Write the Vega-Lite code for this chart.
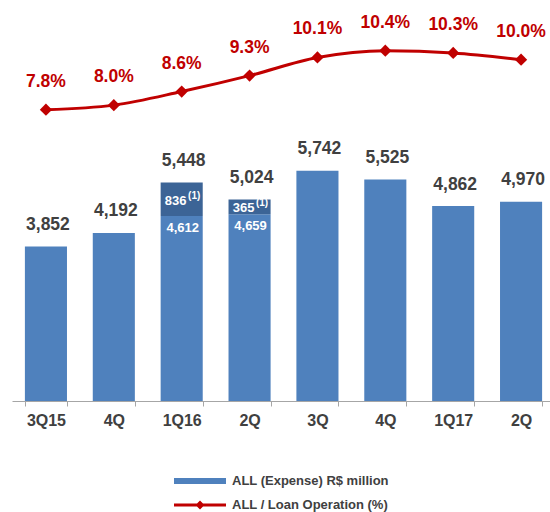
{
  "$schema": "https://vega.github.io/schema/vega-lite/v6.json",
  "autosize": "none",
  "width": 538,
  "height": 401,
  "padding": {"left": 12, "top": 0, "right": 0, "bottom": 111},
  "background": "white",
  "config": {"view": {"stroke": null}, "font": "Liberation Sans"},
  "datasets": {
    "bars": [
      {"q": "3Q15", "part": "base", "value": 3852, "series": "ALL (Expense) R$ million", "note": ""},
      {"q": "4Q15", "part": "base", "value": 4192, "series": "ALL (Expense) R$ million", "note": ""},
      {"q": "1Q16", "part": "base", "value": 4612, "series": "ALL (Expense) R$ million", "note": ""},
      {"q": "1Q16", "part": "extra", "value": 836, "series": "ALL (Expense) R$ million", "note": "(1)"},
      {"q": "2Q16", "part": "base", "value": 4659, "series": "ALL (Expense) R$ million", "note": ""},
      {"q": "2Q16", "part": "extra", "value": 365, "series": "ALL (Expense) R$ million", "note": "(1)"},
      {"q": "3Q16", "part": "base", "value": 5742, "series": "ALL (Expense) R$ million", "note": ""},
      {"q": "4Q16", "part": "base", "value": 5525, "series": "ALL (Expense) R$ million", "note": ""},
      {"q": "1Q17", "part": "base", "value": 4862, "series": "ALL (Expense) R$ million", "note": ""},
      {"q": "2Q17", "part": "base", "value": 4970, "series": "ALL (Expense) R$ million", "note": ""}
    ],
    "line": [
      {"q": "3Q15", "pct": 0.078, "series": "ALL / Loan Operation (%)"},
      {"q": "4Q15", "pct": 0.080, "series": "ALL / Loan Operation (%)"},
      {"q": "1Q16", "pct": 0.086, "series": "ALL / Loan Operation (%)"},
      {"q": "2Q16", "pct": 0.093, "series": "ALL / Loan Operation (%)"},
      {"q": "3Q16", "pct": 0.101, "series": "ALL / Loan Operation (%)"},
      {"q": "4Q16", "pct": 0.104, "series": "ALL / Loan Operation (%)"},
      {"q": "1Q17", "pct": 0.103, "series": "ALL / Loan Operation (%)"},
      {"q": "2Q17", "pct": 0.100, "series": "ALL / Loan Operation (%)"}
    ]
  },
  "resolve": {"scale": {"y": "independent"}},
  "layer": [
    {
      "data": {"name": "bars"},
      "encoding": {
        "x": {
          "field": "q", "type": "nominal",
          "sort": ["3Q15", "4Q15", "1Q16", "2Q16", "3Q16", "4Q16", "1Q17", "2Q17"],
          "scale": {"range": [0, 543], "paddingInner": 0.38, "paddingOuter": 0.19},
          "axis": {
            "title": null, "labelAngle": 0,
            "labelExpr": "(datum.label === '3Q15' || datum.label === '1Q16' || datum.label === '1Q17' || !datum.label) ? datum.label : substring(datum.label, 0, 2)",
            "labelFont": "Liberation Sans", "labelFontWeight": "bold", "labelFontSize": 16, "labelColor": "#404040",
            "labelPadding": 6, "domainColor": "#A6A6A6", "tickColor": "#A6A6A6", "tickSize": 5, "tickBand": "extent", "grid": false
          }
        }
      },
      "layer": [
        {
          "mark": {"type": "bar"},
          "encoding": {
            "y": {"field": "value", "type": "quantitative", "stack": "zero", "scale": {"domain": [0, 9950]}, "axis": null},
            "order": {"field": "part", "type": "ordinal"},
            "detail": {"field": "part"},
            "color": {
              "condition": {"test": "datum.part === 'extra'", "value": "#3C6496"},
              "field": "series", "type": "nominal",
              "scale": {"domain": ["ALL (Expense) R$ million", "ALL / Loan Operation (%)"], "range": ["#4F81BD", "#C00000"]},
              "legend": {
                "orient": "none", "legendX": 178, "legendY": 471, "title": null, "direction": "vertical",
                "padding": 0, "symbolSize": 400, "rowPadding": 7, "labelOffset": 22,
                "labelFont": "Liberation Sans", "labelFontSize": 13, "labelFontWeight": "bold", "labelColor": "#404040", "labelLimit": 300,
                "encode": {
                  "symbols": {
                    "update": {
                      "shape": {"signal": "datum.value === 'ALL (Expense) R$ million' ? 'M-2.6,-0.3H2.6V0.3H-2.6Z' : 'M-2.6,-0.14H2.6V0.14H-2.6Z M0,-0.45L0.45,0L0,0.45L-0.45,0Z'"},
                      "fill": {"signal": "datum.value === 'ALL (Expense) R$ million' ? '#4F81BD' : '#C00000'"},
                      "stroke": {"value": "transparent"},
                      "strokeWidth": {"value": 0},
                      "opacity": {"value": 1},
                      "fillOpacity": {"value": 1}
                    }
                  }
                }
              }
            }
          }
        },
        {
          "mark": {"type": "text", "fontSize": 17.5, "fontWeight": "bold", "color": "#404040", "baseline": "middle", "dy": -21.5, "dx": 2},
          "encoding": {
            "y": {"aggregate": "sum", "field": "value", "type": "quantitative"},
            "text": {"aggregate": "sum", "field": "value", "type": "quantitative", "format": ","}
          }
        },
        {
          "transform": [{"filter": "(datum.q === '1Q16' || datum.q === '2Q16') && datum.part === 'base'"}],
          "mark": {"type": "text", "fontSize": 13, "fontWeight": "bold", "color": "white", "baseline": "middle", "dy": 12, "dx": 1},
          "encoding": {
            "y": {"field": "value", "type": "quantitative"},
            "text": {"field": "value", "type": "quantitative", "format": ","}
          }
        },
        {
          "mark": {"type": "text", "fontSize": 13, "fontWeight": "bold", "color": "white", "baseline": "middle", "dy": 1.5, "dx": -6},
          "encoding": {
            "y": {"field": "value", "type": "quantitative", "stack": "zero", "bandPosition": 0.5},
            "order": {"field": "part", "type": "ordinal"},
            "detail": {"field": "part"},
            "text": {"condition": {"test": "datum.part === 'extra'", "field": "value", "type": "quantitative", "format": ","}, "value": ""}
          }
        },
        {
          "mark": {"type": "text", "fontSize": 10, "fontWeight": "bold", "color": "white", "baseline": "middle", "dy": -3.5, "dx": 12.5},
          "encoding": {
            "y": {"field": "value", "type": "quantitative", "stack": "zero", "bandPosition": 0.5},
            "order": {"field": "part", "type": "ordinal"},
            "detail": {"field": "part"},
            "text": {"field": "note", "type": "nominal"}
          }
        }
      ]
    },
    {
      "data": {"name": "line"},
      "encoding": {
        "x": {"field": "q", "type": "nominal", "sort": ["3Q15", "4Q15", "1Q16", "2Q16", "3Q16", "4Q16", "1Q17", "2Q17"]},
        "y": {"field": "pct", "type": "quantitative", "scale": {"domain": [-0.0503, 0.1263]}, "axis": null}
      },
      "layer": [
        {
          "mark": {"type": "line", "strokeWidth": 3, "interpolate": "monotone", "point": {"shape": "diamond", "filled": true, "size": 150, "opacity": 1}},
          "encoding": {"color": {"field": "series", "type": "nominal"}}
        },
        {
          "mark": {"type": "text", "fontSize": 17.5, "fontWeight": "bold", "color": "#C00000", "baseline": "middle", "dy": -28},
          "encoding": {"text": {"field": "pct", "type": "quantitative", "format": ".1%"}}
        }
      ]
    }
  ]
}
